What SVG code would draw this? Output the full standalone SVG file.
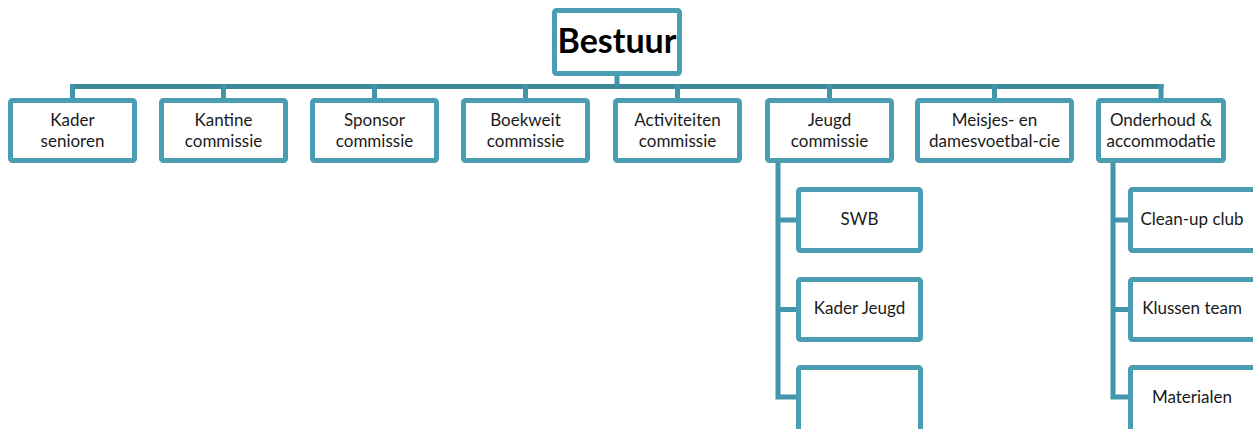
<svg xmlns="http://www.w3.org/2000/svg" width="1253" height="429" viewBox="0 0 1253 429">
<style>
.box{fill:#fff;stroke:#4A9DB3;stroke-width:5;}
.ln{fill:none;stroke:#4196AC;stroke-width:5;stroke-linejoin:miter;}
.bar{fill:none;stroke:#3D899C;stroke-width:5;}
.t{font-family:Lato,"Open Sans","Noto Sans",sans-serif;font-size:17px;fill:#1a1a1a;text-anchor:middle;}
.big{font-family:Lato,"Open Sans","Noto Sans",sans-serif;font-size:34px;font-weight:bold;fill:#000;text-anchor:middle;}
</style>
<rect width="1253" height="429" fill="#fff"/>
<g id="connectors">
<path class="bar" d="M70 86.5H1163.5"/>
<path class="ln" d="M617 76V86.5"/>
<path class="ln" d="M72.5 84V98M223.5 84V98M374.5 84V98M525.5 84V98M677.5 84V98M829.5 84V98M994.5 84V98M1161 84V98"/>
<path class="ln" d="M778 163V397H796M778 220H796M778 309.5H796"/>
<path class="ln" d="M1113 163V397H1128M1113 220H1128M1113 309.5H1128"/>
</g>
<g id="bestuur"><rect class="box" x="554.5" y="10.5" width="125" height="63" rx="2"/><text class="big" x="617" y="53">Bestuur</text></g>
<g id="kader-senioren"><rect class="box" x="10.5" y="100.5" width="124" height="60" rx="2"/><text class="t" x="72.5" y="126">Kader</text><text class="t" x="72.5" y="147">senioren</text></g>
<g id="kantine"><rect class="box" x="161.5" y="100.5" width="124" height="60" rx="2"/><text class="t" x="223.5" y="126">Kantine</text><text class="t" x="223.5" y="147">commissie</text></g>
<g id="sponsor"><rect class="box" x="312.5" y="100.5" width="124" height="60" rx="2"/><text class="t" x="374.5" y="126">Sponsor</text><text class="t" x="374.5" y="147">commissie</text></g>
<g id="boekweit"><rect class="box" x="463.5" y="100.5" width="124" height="60" rx="2"/><text class="t" x="525.5" y="126">Boekweit</text><text class="t" x="525.5" y="147">commissie</text></g>
<g id="activiteiten"><rect class="box" x="615.5" y="100.5" width="124" height="60" rx="2"/><text class="t" x="677.5" y="126">Activiteiten</text><text class="t" x="677.5" y="147">commissie</text></g>
<g id="jeugd"><rect class="box" x="767.5" y="100.5" width="124" height="60" rx="2"/><text class="t" x="829.5" y="126">Jeugd</text><text class="t" x="829.5" y="147">commissie</text></g>
<g id="meisjes"><rect class="box" x="917.5" y="100.5" width="154" height="60" rx="2"/><text class="t" x="994.5" y="126">Meisjes- en</text><text class="t" x="994.5" y="147">damesvoetbal-cie</text></g>
<g id="onderhoud"><rect class="box" x="1098.5" y="100.5" width="125" height="60" rx="2"/><text class="t" x="1161" y="126">Onderhoud &amp;</text><text class="t" x="1161" y="147">accommodatie</text></g>
<g id="swb"><rect class="box" x="798.5" y="189.5" width="122" height="61" rx="2"/><text class="t" x="859.5" y="225">SWB</text></g>
<g id="kader-jeugd"><rect class="box" x="798.5" y="279.5" width="122" height="60" rx="2"/><text class="t" x="859.5" y="314">Kader Jeugd</text></g>
<g id="empty"><rect class="box" x="798.5" y="367.5" width="122" height="66" rx="2"/></g>
<g id="cleanup"><rect class="box" x="1130.5" y="189.5" width="125" height="61" rx="2"/><text class="t" x="1192" y="225">Clean-up club</text></g>
<g id="klussen"><rect class="box" x="1130.5" y="279.5" width="125" height="60" rx="2"/><text class="t" x="1192" y="314">Klussen team</text></g>
<g id="materialen"><rect class="box" x="1130.5" y="367.5" width="125" height="66" rx="2"/><text class="t" x="1192" y="403">Materialen</text></g>
</svg>
